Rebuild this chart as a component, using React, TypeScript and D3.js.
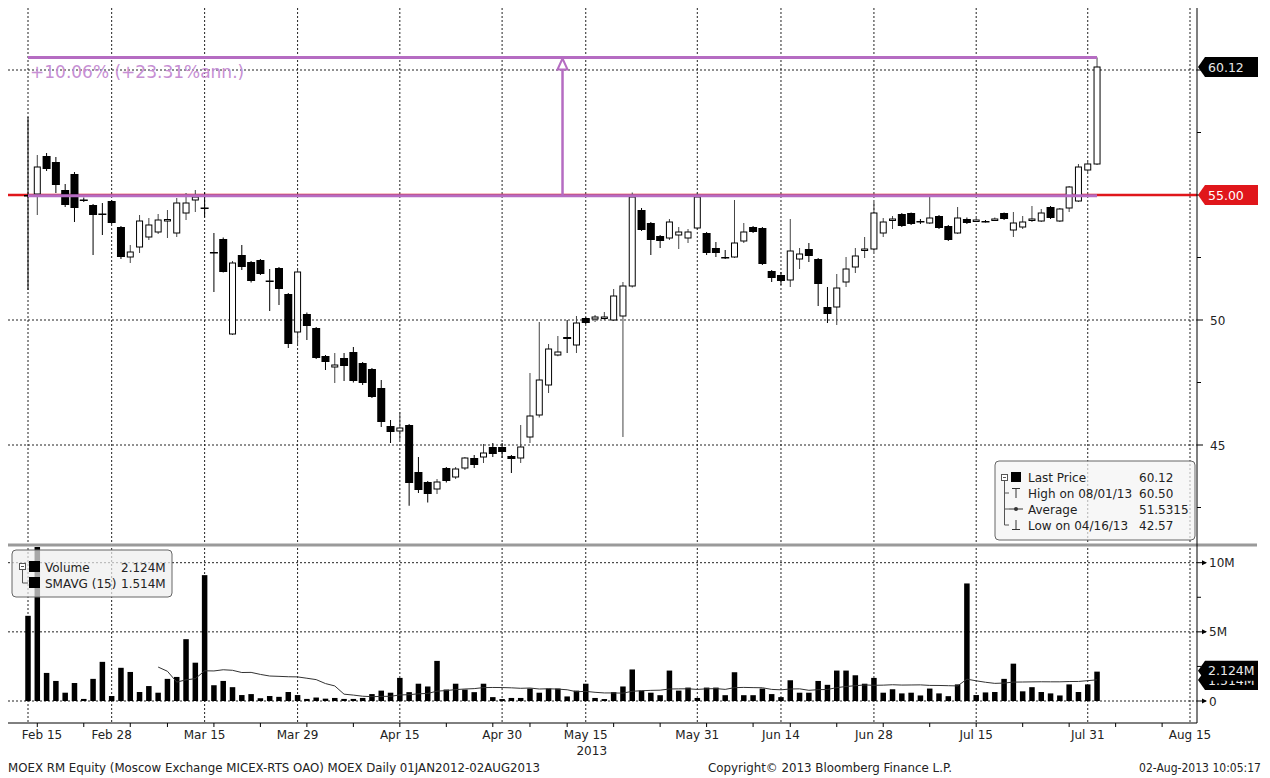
import * as d3 from "d3";

// trading calendar (MICEX 2013), month -> trading days
const calendar: [string, number[]][] = [
  ["02", [15, 18, 19, 20, 21, 22, 25, 26, 27, 28]],
  ["03", [1, 4, 5, 6, 7, 11, 12, 13, 14, 15, 18, 19, 20, 21, 22, 25, 26, 27, 28, 29]],
  ["04", [1, 2, 3, 4, 5, 8, 9, 10, 11, 12, 15, 16, 17, 18, 19, 22, 23, 24, 25, 26, 29, 30]],
  ["05", [2, 3, 6, 7, 8, 10, 13, 14, 15, 16, 17, 20, 21, 22, 23, 24, 27, 28, 29, 30, 31]],
  ["06", [3, 4, 5, 6, 7, 10, 11, 13, 14, 17, 18, 19, 20, 21, 24, 25, 26, 27, 28]],
  ["07", [1, 2, 3, 4, 5, 8, 9, 10, 11, 12, 15, 16, 17, 18, 19, 22, 23, 24, 25, 26, 29, 30, 31]],
  ["08", [1, 2, 5, 6, 7, 8, 9, 12, 13, 14, 15, 16]],
];
const days = calendar.flatMap(([m, ds]) => ds.map((d) => `${m}-${String(d).padStart(2, "0")}`));

const tickDays = ["02-15", "02-28", "03-15", "03-29", "04-15", "04-30", "05-15", "05-31", "06-14", "06-28", "07-15", "07-31", "08-15"];
const tickLabels = ["Feb 15", "Feb 28", "Mar 15", "Mar 29", "Apr 15", "Apr 30", "May 15", "May 31", "Jun 14", "Jun 28", "Jul 15", "Jul 31", "Aug 15"];

// open, high, low, close from 02-15 to 08-01
const ohlc: [number, number, number, number][] = [
  [55.0, 58.12, 51.2, 54.97], [55.04, 56.6, 54.2, 56.12], [56.56, 56.68, 55.96, 56.04], [56.32, 56.52, 55.08, 55.4],
  [55.2, 55.44, 54.52, 54.6], [55.84, 55.92, 53.92, 54.48], [54.82, 54.9, 54.72, 54.78], [54.6, 54.64, 52.6, 54.2],
  [54.26, 54.68, 53.4, 54.22], [54.76, 54.8, 53.84, 53.88], [53.72, 53.76, 52.44, 52.52], [52.52, 53.0, 52.28, 52.72],
  [52.92, 54.2, 52.68, 53.96], [53.32, 54.08, 53.2, 53.8], [53.52, 54.24, 53.44, 54.0], [54.0, 54.4, 53.28, 54.02],
  [53.48, 54.88, 53.32, 54.68], [54.28, 55.08, 54.0, 54.68], [54.8, 55.2, 54.32, 54.92], [54.5, 55.1, 54.1, 54.45],
  [52.72, 53.48, 51.12, 52.68], [53.24, 53.3, 51.9, 51.92], [49.44, 52.36, 49.4, 52.28], [52.6, 53.0, 52.0, 52.12],
  [52.32, 52.36, 51.5, 51.56], [52.4, 52.44, 51.8, 51.84], [51.58, 52.04, 50.36, 51.54], [52.08, 52.12, 50.6, 51.24],
  [51.04, 51.08, 48.88, 49.04], [49.52, 52.0, 49.04, 51.92], [50.24, 50.3, 49.2, 49.76], [49.68, 49.72, 48.44, 48.48],
  [48.56, 48.6, 48.0, 48.32], [48.12, 48.68, 47.48, 48.2], [48.48, 48.68, 47.56, 48.16], [48.72, 48.92, 47.5, 47.56],
  [48.28, 48.32, 47.4, 47.48], [48.04, 48.08, 46.88, 46.92], [47.28, 47.6, 45.72, 45.92], [45.76, 46.0, 45.08, 45.52],
  [45.56, 46.32, 45.2, 45.68], [45.8, 45.84, 42.57, 43.48], [43.92, 44.52, 43.08, 43.2], [43.52, 43.56, 42.7, 43.04],
  [43.24, 43.64, 43.04, 43.52], [44.08, 44.12, 43.5, 43.56], [43.72, 44.12, 43.64, 44.04], [44.08, 44.52, 44.0, 44.48],
  [44.48, 44.6, 44.08, 44.2], [44.52, 45.04, 44.28, 44.68], [44.92, 45.08, 44.52, 44.64], [44.92, 45.08, 44.48, 44.72],
  [44.56, 44.6, 43.88, 44.44], [44.48, 45.8, 44.28, 44.92], [45.32, 47.88, 45.08, 46.16], [46.2, 49.92, 46.1, 47.6],
  [47.4, 49.04, 47.08, 48.84], [48.6, 49.36, 48.55, 48.72], [49.32, 50.0, 48.68, 49.24], [49.0, 50.16, 48.68, 49.88],
  [50.08, 50.12, 49.84, 49.88], [50.04, 50.2, 49.92, 50.12], [50.1, 50.32, 50.0, 50.12], [50.0, 51.24, 49.96, 50.96],
  [50.16, 51.52, 45.32, 51.36], [51.36, 55.1, 51.3, 54.92], [54.4, 54.48, 53.56, 53.6], [53.88, 53.92, 52.6, 53.2],
  [53.36, 53.4, 52.88, 53.16], [53.28, 54.04, 53.2, 53.92], [53.4, 53.72, 52.84, 53.52], [53.28, 53.64, 53.08, 53.52],
  [53.68, 55.08, 53.6, 54.92], [53.48, 53.52, 52.6, 52.68], [52.88, 53.12, 52.52, 52.68], [52.52, 52.8, 52.44, 52.5],
  [52.52, 54.8, 52.48, 53.08], [53.16, 53.88, 53.08, 53.52], [53.72, 53.76, 53.48, 53.52], [53.68, 53.72, 52.2, 52.24],
  [51.96, 52.0, 51.52, 51.68], [51.8, 51.92, 51.4, 51.56], [51.6, 54.04, 51.32, 52.76], [52.44, 52.88, 52.04, 52.64],
  [52.84, 53.08, 52.32, 52.56], [52.44, 52.48, 50.56, 51.44], [50.52, 51.32, 49.88, 50.24], [50.52, 51.84, 49.8, 51.28],
  [51.52, 52.52, 51.32, 52.04], [52.12, 52.88, 51.88, 52.56], [52.82, 53.32, 52.48, 52.84], [52.84, 54.72, 52.72, 54.28],
  [53.48, 54.08, 53.32, 53.92], [54.02, 54.16, 53.64, 54.04], [54.24, 54.28, 53.72, 53.76], [54.28, 54.3, 53.8, 53.84],
  [53.96, 54.04, 53.84, 53.94], [53.88, 54.92, 53.84, 54.08], [54.16, 54.2, 53.64, 53.68], [53.76, 53.8, 53.16, 53.2],
  [53.48, 54.52, 53.44, 54.08], [54.04, 54.1, 53.84, 53.88], [54.0, 54.08, 53.92, 54.0], [53.96, 54.0, 53.9, 53.94],
  [54.02, 54.1, 53.96, 54.04], [54.28, 54.3, 54.0, 54.04], [53.6, 54.32, 53.32, 53.88], [53.72, 54.16, 53.64, 53.92],
  [54.02, 54.56, 53.92, 54.04], [53.96, 54.44, 53.92, 54.28], [54.52, 54.56, 54.04, 54.08], [53.96, 54.48, 53.92, 54.44],
  [54.48, 55.36, 54.32, 55.32], [54.76, 56.24, 54.72, 56.12], [56.0, 56.32, 55.92, 56.24], [56.24, 60.5, 56.2, 60.12],
];

// volume, millions
const volume = [
  6.16, 13.5, 2.03, 1.45, 0.6, 1.3, 0.15, 1.6, 2.83, 0.36, 2.4, 2.1, 0.65, 1.08, 0.6, 1.6, 1.74, 4.47, 2.77, 9.1,
  1.14, 1.45, 1.0, 0.43, 0.5, 0.2, 0.36, 0.3, 0.65, 0.43, 0.15, 0.25, 0.17, 0.22, 0.15, 0.15, 0.22, 0.5, 0.75, 0.6,
  1.67, 0.64, 1.25, 1.05, 2.9, 0.83, 1.25, 0.83, 0.64, 1.25, 0.28, 0.14, 0.22, 0.22, 0.9, 0.6, 0.9, 0.9, 0.33, 0.75,
  1.25, 0.22, 0.14, 0.64, 1.05, 2.28, 0.75, 0.6, 0.42, 2.2, 0.75, 0.97, 0.22, 0.97, 0.97, 0.42, 2.08, 0.42, 0.42, 0.9,
  0.5, 0.28, 1.5, 0.6, 0.6, 1.45, 1.17, 2.2, 2.2, 1.86, 1.25, 1.67, 0.6, 0.85, 0.55, 0.6, 0.4, 0.9, 0.55, 0.35,
  1.2, 8.5, 0.43, 0.62, 0.65, 1.6, 2.7, 0.7, 1.0, 0.65, 0.55, 0.4, 1.2, 0.65, 1.2, 2.124,
];

const FONT = "DejaVu Sans, Verdana, sans-serif";
const PURPLE = "#b56cc2";
const LEFT = 8;
const RIGHT = 1197;
const TOP = 8;
const AXIS_Y = 723;

export default function App() {
  const x = d3.scalePoint<string>().domain(days).range([28, 28 + 9.296 * (days.length - 1)]);
  const y = d3.scaleLinear().domain([45, 60]).range([445, 70]);
  const yv = d3.scaleLinear().domain([0, 10]).range([701, 562.7]);

  const sma = volume.map((_, i) => (i < 14 ? null : d3.mean(volume.slice(i - 14, i + 1)) as number));
  const smaLine = d3
    .line<number | null>()
    .defined((d) => d !== null)
    .x((_, i) => x(days[i]) as number)
    .y((d) => yv(d as number));

  const mondays = days.filter((d) => new Date(`2013-${d}T12:00:00`).getDay() === 1);
  const dash = "2 2";

  const callout = (cy: number, text: string, fill: string, color: string) => (
    <g key={text}>
      <polygon points={`1198,${cy} 1205,${cy - 10} 1258,${cy - 10} 1258,${cy + 10} 1205,${cy + 10}`} fill={fill} />
      <text x={1208} y={cy + 4.5} fontSize={12.5} fill={color} fontFamily={FONT}>{text}</text>
    </g>
  );

  const startPx = ohlc[0][3];
  const highPx = ohlc[ohlc.length - 1][1];
  const annX0 = x(days[0]) as number;
  const annX1 = x(days[ohlc.length - 1]) as number;
  const arrowX = (annX0 + annX1) / 2;

  return (
    <svg width={1270} height={778} style={{ position: "absolute", left: 0, top: 0, background: "#fff" }}>
      <defs>
        <clipPath id="volclip">
          <rect x={LEFT} y={547} width={RIGHT - LEFT} height={170} />
        </clipPath>
      </defs>
      <rect width={1270} height={778} fill="#fff" />

      {/* grid */}
      {tickDays.map((d) => (
        <line key={d} x1={x(d)} x2={x(d)} y1={TOP} y2={AXIS_Y} stroke="#222" strokeDasharray={dash} />
      ))}
      {[45, 50, 60].map((v) => (
        <line key={v} x1={LEFT} x2={RIGHT} y1={y(v)} y2={y(v)} stroke="#222" strokeDasharray={dash} />
      ))}
      {[0, 5, 10].map((v) => (
        <line key={v} x1={LEFT} x2={RIGHT} y1={yv(v)} y2={yv(v)} stroke="#222" strokeDasharray={dash} />
      ))}

      {/* 55.00 level line */}
      <line x1={LEFT} x2={RIGHT} y1={y(55)} y2={y(55)} stroke="#e0161b" strokeWidth={2.5} />

      {/* candles */}
      {ohlc.map(([o, h, l, c], i) => {
        const cx = x(days[i]) as number;
        const up = c >= o;
        const top = y(Math.max(o, c));
        const bh = Math.max(Math.abs(y(o) - y(c)), 1.5);
        return (
          <g key={i}>
            <line x1={cx} x2={cx} y1={y(h)} y2={y(l)} stroke={up ? "#444" : "#000"} strokeWidth={1} />
            {up ? (
              <rect x={cx - 3} y={top} width={6} height={bh} fill="#fff" stroke="#000" strokeWidth={1} />
            ) : (
              <rect x={cx - 4} y={top} width={8} height={bh} fill="#000" />
            )}
          </g>
        );
      })}

      {/* trend annotation */}
      <line x1={annX0} x2={annX1} y1={y(highPx)} y2={y(highPx)} stroke={PURPLE} strokeWidth={3} />
      <line x1={annX0} x2={annX1} y1={y(startPx)} y2={y(startPx)} stroke={PURPLE} strokeWidth={3} />
      <line x1={arrowX} x2={arrowX} y1={y(startPx)} y2={y(highPx) + 10} stroke={PURPLE} strokeWidth={2.5} />
      <polygon
        points={`${arrowX - 5},${y(highPx) + 12} ${arrowX},${y(highPx) + 1} ${arrowX + 5},${y(highPx) + 12}`}
        fill="#fff"
        stroke={PURPLE}
        strokeWidth={2}
      />
      <text x={30} y={78} fontSize={17} fill="#c78fd4" fontFamily={FONT}>+10.06% (+23.31%ann.)</text>

      {/* panel separator */}
      <line x1={LEFT} x2={1257} y1={545} y2={545} stroke="#9a9a9a" strokeWidth={3} />

      {/* volume */}
      <g clipPath="url(#volclip)">
        {volume.map((v, i) => (
          <rect key={i} x={(x(days[i]) as number) - 2.75} y={yv(v)} width={5.5} height={yv(0) - yv(v)} fill="#000" />
        ))}
        <path d={smaLine(sma) ?? ""} fill="none" stroke="#333" strokeWidth={1} />
      </g>

      {/* axes */}
      <line x1={RIGHT} x2={RIGHT} y1={TOP} y2={AXIS_Y} stroke="#000" />
      <line x1={LEFT} x2={RIGHT} y1={AXIS_Y} y2={AXIS_Y} stroke="#000" />
      {mondays.map((d) => (
        <line key={d} x1={x(d)} x2={x(d)} y1={AXIS_Y} y2={AXIS_Y + 4} stroke="#000" />
      ))}
      {tickDays.map((d, i) => (
        <text
          key={d}
          x={Math.max(x(d) as number, 42)}
          y={739}
          textAnchor="middle"
          fontSize={12}
          fill="#222"
          fontFamily={FONT}
        >
          {tickLabels[i]}
        </text>
      ))}
      <text x={(x("05-15") as number) + 6} y={755} textAnchor="middle" fontSize={12} fill="#222" fontFamily={FONT}>2013</text>

      {[42.5, 45, 47.5, 50, 52.5, 55, 57.5, 60].map((v) => (
        <line key={v} x1={RIGHT} x2={RIGHT + (v % 5 === 0 ? 6 : 4)} y1={y(v)} y2={y(v)} stroke="#000" />
      ))}
      {[45, 50].map((v) => (
        <text key={v} x={1210} y={y(v) + 4.5} fontSize={12} fill="#222" fontFamily={FONT}>{v}</text>
      ))}

      {[2.5, 7.5].map((v) => (
        <line key={v} x1={RIGHT} x2={RIGHT + 4} y1={yv(v)} y2={yv(v)} stroke="#000" />
      ))}
      {[0, 5, 10].map((v) => (
        <g key={v}>
          <line x1={RIGHT} x2={RIGHT + 9} y1={yv(v)} y2={yv(v)} stroke="#000" />
          <polygon points={`${RIGHT + 5},${yv(v) - 2.5} ${RIGHT + 10},${yv(v)} ${RIGHT + 5},${yv(v) + 2.5}`} fill="#000" />
          <text x={1209} y={yv(v) + 4.5} fontSize={12} fill="#222" fontFamily={FONT}>{v === 0 ? "0" : `${v}M`}</text>
        </g>
      ))}

      {callout(y(60.12), "60.12", "#000", "#e8e8e8")}
      {callout(y(55), "55.00", "#e0161b", "#fff")}
      {callout(yv(1.514), "1.514M", "#000", "#e8e8e8")}
      {callout(yv(2.124) - 1, "2.124M", "#000", "#e8e8e8")}

      {/* price legend */}
      <g fontFamily={FONT} fontSize={12} fill="#222">
        <rect x={995} y={461} width={200} height={79} rx={4} fill="#f4f4f4" fillOpacity={0.7} stroke="#666" />
        <rect x={1001.5} y={474.5} width={6} height={6} fill="#fff" stroke="#555" />
        <line x1={1003} x2={1006} y1={477.5} y2={477.5} stroke="#555" />
        <line x1={1004.5} x2={1004.5} y1={480.5} y2={525} stroke="#555" />
        {[493, 509, 525].map((cy) => (
          <line key={cy} x1={1004.5} x2={1009} y1={cy} y2={cy} stroke="#555" />
        ))}
        <rect x={1011} y={472} width={10} height={10} fill="#000" />
        <line x1={1012} x2={1020} y1={488.5} y2={488.5} stroke="#333" />
        <line x1={1016} x2={1016} y1={488.5} y2={498} stroke="#333" />
        <line x1={1009} x2={1023} y1={509} y2={509} stroke="#333" />
        <circle cx={1016} cy={509} r={2} fill="#333" />
        <line x1={1016} x2={1016} y1={520} y2={529.5} stroke="#333" />
        <line x1={1012} x2={1020} y1={529.5} y2={529.5} stroke="#333" />
        <text x={1028} y={482}>Last Price</text>
        <text x={1028} y={498}>High on 08/01/13</text>
        <text x={1028} y={514}>Average</text>
        <text x={1028} y={530}>Low on 04/16/13</text>
        <text x={1139} y={482}>60.12</text>
        <text x={1139} y={498}>60.50</text>
        <text x={1139} y={514}>51.5315</text>
        <text x={1139} y={530}>42.57</text>
      </g>

      {/* volume legend */}
      <g fontFamily={FONT} fontSize={12} fill="#222">
        <rect x={12} y={550} width={160} height={47} rx={4} fill="#eeeeee" fillOpacity={0.7} stroke="#666" />
        <rect x={19.5} y={563.5} width={6} height={6} fill="#fff" stroke="#555" />
        <line x1={21} x2={24} y1={566.5} y2={566.5} stroke="#555" />
        <line x1={22.5} x2={22.5} y1={569.5} y2={583} stroke="#555" />
        <line x1={22.5} x2={28} y1={583} y2={583} stroke="#555" />
        <rect x={29} y={561} width={11} height={11} fill="#000" />
        <rect x={29} y={577} width={11} height={11} fill="#000" />
        <text x={45} y={572}>Volume</text>
        <text x={45} y={588}>SMAVG (15)</text>
        <text x={121} y={572}>2.124M</text>
        <text x={121} y={588}>1.514M</text>
      </g>

      {/* footer */}
      <g fontFamily={FONT} fontSize={12} fill="#222">
        <text x={8} y={772} textLength={532} lengthAdjust="spacingAndGlyphs">
          MOEX RM Equity (Moscow Exchange MICEX-RTS OAO) MOEX  Daily 01JAN2012-02AUG2013
        </text>
        <text x={708} y={772} textLength={244} lengthAdjust="spacingAndGlyphs">Copyright© 2013 Bloomberg Finance L.P.</text>
        <text x={1261} y={772} textAnchor="end" fontSize={11.5} textLength={122} lengthAdjust="spacingAndGlyphs">02-Aug-2013 10:05:17</text>
      </g>
    </svg>
  );
}
